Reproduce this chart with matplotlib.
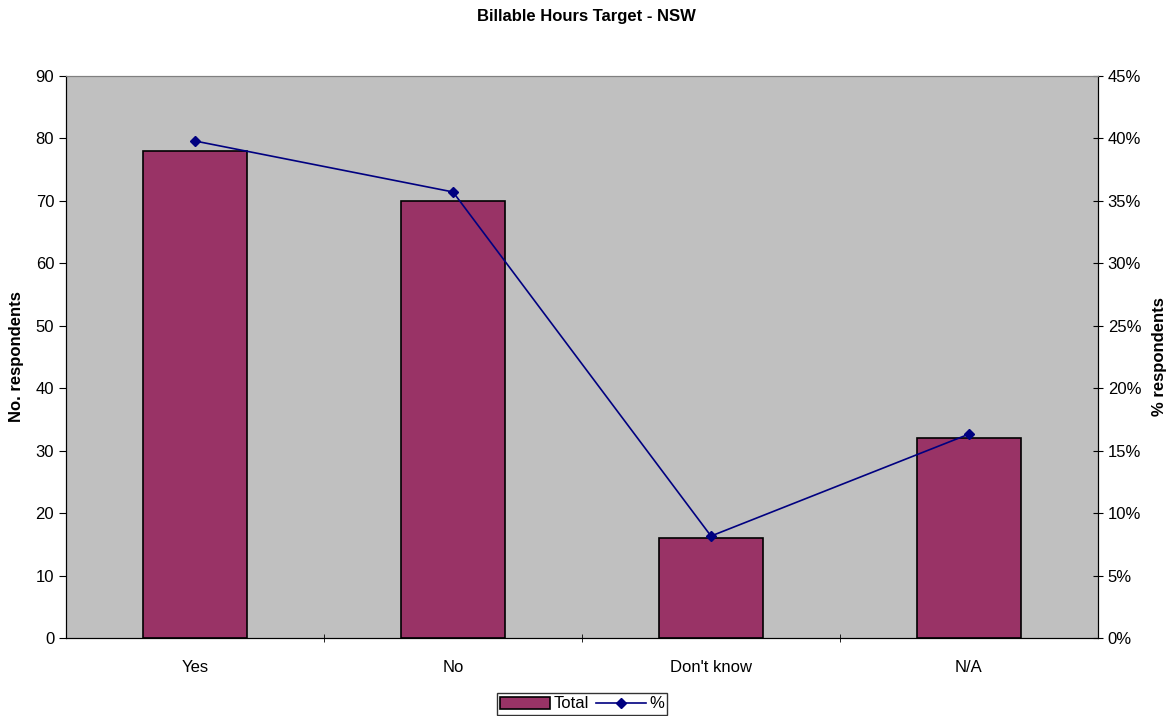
import matplotlib
matplotlib.use("Agg")
import matplotlib.pyplot as plt
from matplotlib.ticker import FuncFormatter

plt.rcParams['font.family'] = ['Liberation Sans', 'DejaVu Sans']

# data
categories = ['Yes', 'No', "Don't know", 'N/A']
totals = [78, 70, 16, 32]
pct = [t / sum(totals) * 100 for t in totals]

fig = plt.figure(figsize=(11.73, 7.16), dpi=100)
ax = fig.add_axes([66 / 1173, 78 / 716, 1032 / 1173, 562 / 716])
ax.set_facecolor('#c0c0c0')

x = list(range(len(categories)))
bars = ax.bar(x, totals, width=0.4, color='#993366', edgecolor='black',
              linewidth=1.2, label='Total', zorder=2)
ax.set_xlim(-0.5, len(categories) - 0.5)
ax.set_ylim(0, 90)
ax.set_yticks(range(0, 91, 10))
ax.set_xticks(x)
ax.set_xticklabels(categories)
ax.set_xticks([i + 0.5 for i in x[:-1]], minor=True)
ax.tick_params(axis='x', which='major', length=0, pad=16, labelsize=12)
ax.tick_params(axis='x', which='minor', length=6, direction='inout')
ax.tick_params(axis='y', length=5, labelsize=12, direction='out')
ax.set_ylabel('No. respondents', fontsize=12, fontweight='bold', labelpad=8)

ax2 = ax.twinx()
line, = ax2.plot(x, pct, color='#000080', marker='D', markersize=5,
                 linewidth=1.2, label='%', zorder=3)
ax2.set_ylim(0, 45)
ax2.set_yticks(range(0, 46, 5))
ax2.yaxis.set_major_formatter(FuncFormatter(lambda v, p: f'{v:.0f}%'))
ax2.tick_params(axis='y', length=7, labelsize=12, direction='inout')
ax2.set_ylabel('% respondents', fontsize=12, fontweight='bold', labelpad=8)

for a in (ax, ax2):
    a.spines['top'].set_color('#808080')
    a.spines['left'].set_color('black')
    a.spines['right'].set_color('black')
    a.spines['bottom'].set_color('black')

fig.suptitle('Billable Hours Target - NSW', fontsize=12, fontweight='bold', y=0.987)

leg = fig.legend([bars, line], ['Total', '%'], loc='center', ncol=2,
                 bbox_to_anchor=(582 / 1173, 1 - 704 / 716), frameon=True,
                 fancybox=False, edgecolor='black', fontsize=12,
                 handlelength=3, handletextpad=0.2, columnspacing=0.4,
                 borderpad=0.2)
leg.get_frame().set_linewidth(1)

fig.savefig('out.png', dpi=100)
